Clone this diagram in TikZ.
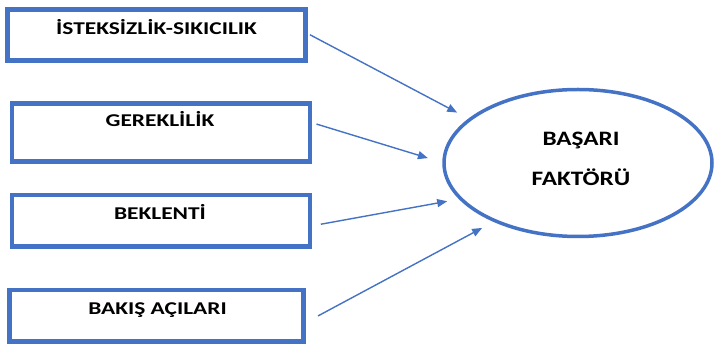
\documentclass[tikz,border=0pt]{standalone}
\usepackage{fontspec}
\setmainfont{Carlito}
\newfontfamily\boxfont[FakeStretch=1.3]{Carlito}
\newfontfamily\ovalfont[FakeStretch=1.23]{Carlito}
\usetikzlibrary{arrows.meta,shapes.geometric}
\definecolor{officeblue}{HTML}{4472C4}
\tikzset{
  factor/.style={draw=officeblue, line width=4.5pt, rectangle, inner sep=0pt, outer sep=0pt},
  outcome/.style={draw=officeblue, line width=3.5pt, ellipse, minimum width=268pt,
    minimum height=147pt, inner sep=0pt, outer sep=0pt},
  caption/.style={font=\boxfont\bfseries\fontsize{18}{22}\selectfont, text height=11.6pt,
    text depth=0pt, inner sep=0pt},
  ovalcaption/.style={font=\ovalfont\bfseries\fontsize{20.5}{24}\selectfont, text height=13.2pt,
    text depth=0pt, inner sep=0pt},
  link/.style={draw=officeblue, line width=1.4pt, -{Triangle[length=10pt,width=8pt]}}
}
\begin{document}
\begin{tikzpicture}[x=1pt,y=-1pt]
\useasboundingbox (0,0) rectangle (715,344);

% left boxes
\node[factor, minimum width=298pt, minimum height=51pt] (f1) at (156.5,35) {};
\node[factor, minimum width=298pt, minimum height=58pt] (f2) at (161,132.5) {};
\node[factor, minimum width=298pt, minimum height=51.5pt] (f3) at (161,221) {};
\node[factor, minimum width=294pt, minimum height=51.5pt] (f4) at (156.5,316) {};
\node[caption] (t1) at (156.5,28.5) {İSTEKSİZLİK-SIKICILIK};
\node[caption] (t2) at (160,121) {GEREKLİLİK};
\node[caption] (t3) at (160,213.5) {BEKLENTİ};
\node[caption] (t4) at (157.5,308.5) {BAKIŞ AÇILARI};

% ellipse
\node[outcome] (bf) at (578,163) {};
\node[ovalcaption] (b1) at (581,138.5) {BAŞARI};
\node[ovalcaption] (b2) at (581,178.5) {FAKTÖRÜ};

% arrows
\draw[link, shorten <=5pt, shorten >=14.6pt] (f1.1) -- (bf.158);
\draw[link, shorten <=6.8pt, shorten >=16.8pt] (f2.4) -- (bf.180);
\draw[link, shorten <=11pt, shorten >=14pt] (f3.358) -- (bf.197);
\draw[link, shorten <=16.5pt, shorten >=15pt] (f4.357) -- (bf.215);

\end{tikzpicture}
\end{document}
